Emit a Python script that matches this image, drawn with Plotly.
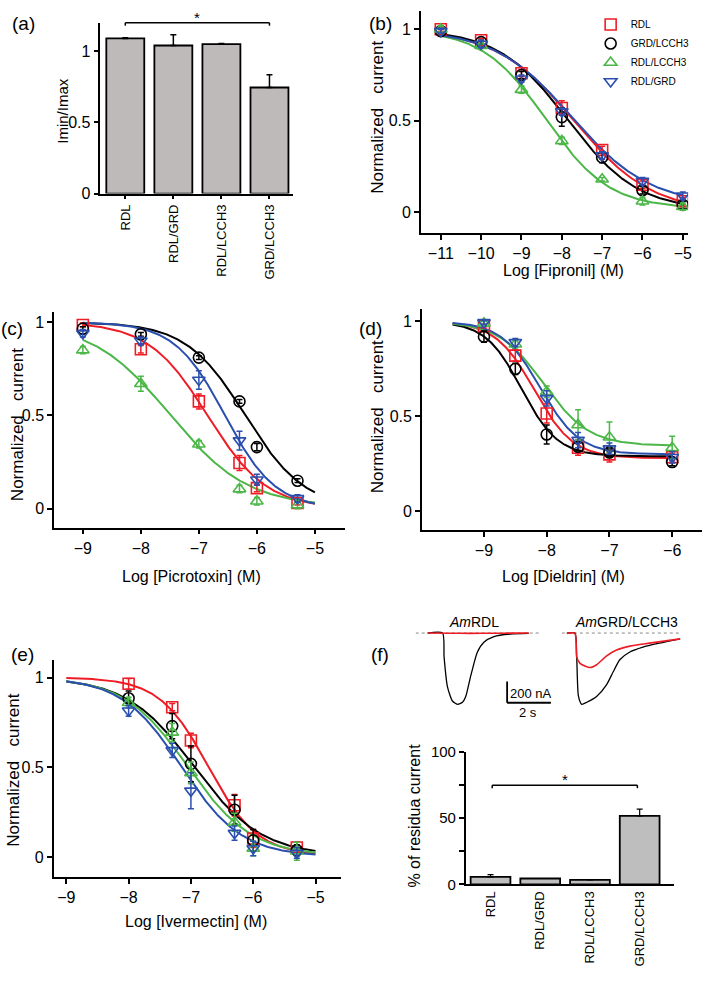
import numpy as np
import plotly.graph_objects as go

W, H = 709, 981

# ---------------- data ----------------
groups = ["RDL", "GRD/LCCH3", "RDL/LCCH3", "RDL/GRD"]
colors = ["#ee1c25", "#000000", "#4cb748", "#2b4fae"]
symbols = ["square-open", "circle-open", "triangle-up-open", "triangle-down-open"]

# (a) Imin/Imax bars
bar_cats = ["RDL", "RDL/GRD", "RDL/LCCH3", "GRD/LCCH3"]
imin_imax = [1.09, 1.04, 1.05, 0.745]
imin_imax_err = [0.005, 0.075, 0.005, 0.09]

# (b) Fipronil
fip_x = [-11, -10, -9, -8, -7, -6, -5]
fip_rdl = [1.00, 0.94, 0.76, 0.57, 0.34, 0.15, 0.06]
fip_grd_lcch3 = [0.99, 0.93, 0.75, 0.52, 0.30, 0.12, 0.04]
fip_rdl_lcch3 = [1.00, 0.91, 0.67, 0.39, 0.18, 0.06, 0.03]
fip_rdl_grd = [0.99, 0.92, 0.73, 0.55, 0.31, 0.17, 0.09]
fip_err = [[0.01, 0.01, 0.02, 0.04, 0.02, 0.02, 0.02],
           [0.01, 0.01, 0.02, 0.05, 0.03, 0.02, 0.02],
           [0.02, 0.01, 0.02, 0.02, 0.01, 0.02, 0.02],
           [0.01, 0.02, 0.02, 0.02, 0.02, 0.02, 0.02]]
fip_logic50 = [-7.7, -7.85, -8.4, -7.75]
fip_hill = [0.45, 0.5, 0.55, 0.45]
fip_bottom = [0.0, 0.01, 0.02, 0.04]

# (c) Picrotoxin
pic_x = [-9, -8, -7, -6.3, -6, -5.3]
pic_rdl = [0.985, 0.855, 0.575, 0.245, 0.11, 0.03]
pic_grd_lcch3 = [0.965, 0.935, 0.81, 0.575, 0.33, 0.15]
pic_rdl_lcch3 = [0.85, 0.67, 0.345, 0.105, 0.04, 0.02]
pic_rdl_grd = [0.94, 0.90, 0.69, 0.365, 0.155, 0.055]
pic_err = [[0.01, 0.02, 0.04, 0.04, 0.02, 0.01],
           [0.01, 0.01, 0.01, 0.01, 0.02, 0.01],
           [0.02, 0.04, 0.02, 0.02, 0.02, 0.02],
           [0.02, 0.02, 0.05, 0.05, 0.03, 0.02]]
pic_logic50 = [-6.85, -6.2, -7.5, -6.55]
pic_hill = [0.85, 0.85, 0.65, 1.0]
pic_bottom = [0.0, 0.0, 0.01, 0.0]

# (d) Dieldrin
die_x = [-9, -8.5, -8, -7.5, -7, -6]
die_rdl = [0.975, 0.82, 0.515, 0.335, 0.30, 0.285]
die_grd_lcch3 = [0.92, 0.75, 0.405, 0.34, 0.31, 0.26]
die_rdl_lcch3 = [0.99, 0.88, 0.63, 0.455, 0.39, 0.335]
die_rdl_grd = [0.995, 0.89, 0.595, 0.375, 0.33, 0.285]
die_err = [[0.01, 0.03, 0.05, 0.04, 0.04, 0.02],
           [0.03, 0.03, 0.05, 0.02, 0.02, 0.02],
           [0.01, 0.02, 0.03, 0.08, 0.08, 0.06],
           [0.01, 0.02, 0.04, 0.04, 0.03, 0.03]]
die_logic50 = [-8.2, -8.4, -8.05, -8.1]
die_hill = [1.4, 1.5, 1.2, 1.4]
die_bottom = [0.28, 0.29, 0.345, 0.30]

# (e) Ivermectin
iver_x = [-8, -7.3, -7, -6.3, -6, -5.3]
iver_rdl = [0.965, 0.835, 0.65, 0.29, 0.105, 0.055]
iver_grd_lcch3 = [0.885, 0.73, 0.52, 0.265, 0.095, 0.04]
iver_rdl_lcch3 = [0.86, 0.695, 0.47, 0.195, 0.05, 0.035]
iver_rdl_grd = [0.815, 0.595, 0.37, 0.135, 0.05, 0.025]
iver_err = [[0.03, 0.02, 0.04, 0.06, 0.05, 0.03],
            [0.04, 0.07, 0.10, 0.08, 0.06, 0.03],
            [0.03, 0.05, 0.06, 0.05, 0.04, 0.05],
            [0.03, 0.04, 0.10, 0.04, 0.04, 0.03]]
iver_logic50 = [-6.72, -6.95, -7.05, -7.15]
iver_hill = [1.1, 0.8, 0.85, 0.9]
iver_bottom = [0.01, 0.01, 0.01, 0.005]

# (f) current traces (time s, current nA)
rdl_t_black = [0.55, 1.23, 1.30, 1.45, 1.68, 1.91, 2.14, 2.29, 2.51, 2.82, 3.12, 3.58, 4.33, 5.17]
rdl_i_black = [0, 0, -224, -500, -638, -669, -650, -595, -410, -180, -86, -33, -9, -3]
rdl_t_red = [0.55, 1.5, 2.5, 3.5, 4.5, 5.17]
rdl_i_red = [0, -2, -3, -2, -1, 0]
grd_t_black = [0.23, 0.60, 0.68, 0.76, 0.91, 1.14, 1.59, 2.05, 2.35, 2.65, 3.11, 3.71, 4.47, 5.41]
grd_i_black = [0, 0, -224, -593, -669, -650, -595, -484, -364, -251, -178, -132, -95, -55]
grd_t_red = [0.23, 0.60, 0.68, 0.83, 1.29, 1.59, 2.05, 2.50, 3.11, 4.01, 5.41]
grd_i_red = [-3, -3, -224, -285, -324, -298, -215, -160, -123, -95, -55]

# (f) residual current bars
residual_pct = [5.7, 4.4, 3.4, 51.7]
residual_err = [1.6, 0.0, 0.0, 5.0]

# ---------------- helpers ----------------
def px_x(p):
    return p / W


def px_y(p):
    return 1 - p / H


def vrange(dom_px, v1, p1, v2, p2):
    f = lambda p: v1 + (p - p1) * (v2 - v1) / (p2 - p1)
    return [f(dom_px[0]), f(dom_px[1])]


def hill(x, top, bottom, logic50, n):
    return bottom + (top - bottom) / (1 + 10 ** ((x - logic50) * n))


FONT = "Arial, Liberation Sans, sans-serif"
TICK = 16
TITLE = 16
YTITLE = 17
NC = "Normalized\u00a0\u00a0 current"
fig = go.Figure()

axis_common = dict(showline=True, linecolor="black", linewidth=1.5, ticks="outside",
                   ticklen=5, tickwidth=1.5, tickcolor="black", showgrid=False,
                   zeroline=False, tickfont=dict(size=TICK, family=FONT, color="black"))

layout = dict(width=W, height=H, margin=dict(l=0, r=0, t=0, b=0), autosize=False,
              plot_bgcolor="white", paper_bgcolor="white",
              font=dict(family=FONT, size=14, color="black"),
              annotations=[], shapes=[])


def set_axes(k, xdom, xr, ydom, yr, xtv=None, xtt=None, ytv=None, ytt=None,
             xextra=None, yextra=None):
    xn = "xaxis" if k == 1 else f"xaxis{k}"
    yn = "yaxis" if k == 1 else f"yaxis{k}"
    anc = "" if k == 1 else str(k)
    xa = dict(axis_common, domain=[px_x(xdom[0]), px_x(xdom[1])], range=xr, anchor="y" + anc)
    ya = dict(axis_common, domain=[px_y(ydom[0]), px_y(ydom[1])], range=yr, anchor="x" + anc)
    if xtv is not None:
        xa["tickvals"] = xtv
    if xtt is not None:
        xa["ticktext"] = xtt
    if ytv is not None:
        ya["tickvals"] = ytv
    if ytt is not None:
        ya["ticktext"] = ytt
    if xextra:
        xa.update(xextra)
    if yextra:
        ya.update(yextra)
    layout[xn] = xa
    layout[yn] = ya


def ann(text, x, y, size=14, angle=0, xanchor="center", yanchor="middle"):
    layout["annotations"].append(dict(text=text, x=px_x(x), y=px_y(y), xref="paper", yref="paper",
                                      showarrow=False, textangle=angle, xanchor=xanchor,
                                      yanchor=yanchor, font=dict(size=size, family=FONT, color="black")))


def bracket(x0, x1, y, drop=3):
    for (a, b, c, d) in [(x0, y, x1, y), (x0, y, x0, y + drop), (x1, y, x1, y + drop)]:
        layout["shapes"].append(dict(type="line", xref="paper", yref="paper",
                                     x0=px_x(a), y0=px_y(b), x1=px_x(c), y1=px_y(d),
                                     line=dict(color="black", width=1.5)))


cat_x = dict(type="category", tickangle=-90, ticks="outside", ticklen=4,
             tickfont=dict(size=13, family=FONT, color="black"))

# ---------------- (a) bar chart ----------------
fig.add_trace(go.Bar(x=bar_cats, y=imin_imax, width=0.79, marker=dict(color="#bdbab9", line=dict(color="black", width=1.8)),
                     error_y=dict(type="data", symmetric=False, array=imin_imax_err, arrayminus=[0] * 4,
                                  color="black", thickness=1.5, width=3),
                     xaxis="x", yaxis="y", showlegend=False))
set_axes(1, [101, 295], vrange([101, 295], 0, 126, 3, 271), [188, 14], vrange([188, 14], 0, 188, 1, 43),
         ytv=[0, 0.5, 1], ytt=["0", "0.5", "1"], xextra=cat_x)
bracket(126, 271, 14)
ann("*", 198.5, 9, size=15)
ann("Imin/Imax", 62, 104, size=15, angle=-90)
ann("(a)", 24, 15, size=19)

# ---------------- dose-response panels ----------------
def dose_panel(k, xvals, series, errs, l50, nh, bot, lo, hi, legend=False):
    xa, ya = f"x{k}", f"y{k}"
    xs = np.linspace(lo, hi, 300)
    for i in range(4):
        fig.add_trace(go.Scatter(x=xs, y=hill(xs, 1.0, bot[i], l50[i], nh[i]), mode="lines",
                                 line=dict(color=colors[i], width=2), xaxis=xa, yaxis=ya,
                                 showlegend=False, hoverinfo="skip"))
    for i in range(4):
        fig.add_trace(go.Scatter(x=xvals, y=series[i], mode="markers", name=groups[i],
                                 marker=dict(symbol=symbols[i], size=11, color=colors[i],
                                             line=dict(width=1.6, color=colors[i])),
                                 error_y=dict(type="data", array=errs[i], color=colors[i], thickness=1.5, width=3),
                                 xaxis=xa, yaxis=ya, showlegend=legend))


ytv = [0, 0.5, 1]
ytt = ["0", "0.5", "1"]

# (b)
dose_panel(2, fip_x, [fip_rdl, fip_grd_lcch3, fip_rdl_lcch3, fip_rdl_grd], fip_err,
           fip_logic50, fip_hill, fip_bottom, -11, -5, legend=True)
set_axes(2, [423.3, 692], vrange([423.3, 692], -11, 443.3, -5, 686.7), [228, 2],
         vrange([228, 2], 0, 207, 1, 20.7), xtv=fip_x, ytv=ytv, ytt=ytt)
ann(NC, 380, 110, size=YTITLE, angle=-90)
ann("Log [Fipronil] (M)", 567, 266, size=TITLE)
ann("(b)", 383, 15, size=19)

# (c)
dose_panel(3, pic_x, [pic_rdl, pic_grd_lcch3, pic_rdl_lcch3, pic_rdl_grd], pic_err,
           pic_logic50, pic_hill, pic_bottom, -9, -5)
set_axes(3, [54.3, 346.7], vrange([54.3, 346.7], -9, 83.3, -5, 316.7), [528.3, 309],
         vrange([528.3, 309], 0, 509, 1, 319), xtv=[-9, -8, -7, -6, -5], ytv=ytv, ytt=ytt)
ann(NC, 17, 423, size=YTITLE, angle=-90)
ann("Log [Picrotoxin] (M)", 193, 578, size=TITLE)
ann("(c)", 12, 325, size=19)

# (d)
dose_panel(4, die_x, [die_rdl, die_grd_lcch3, die_rdl_lcch3, die_rdl_grd], die_err,
           die_logic50, die_hill, die_bottom, -9.5, -6)
set_axes(4, [424.3, 706], vrange([424.3, 706], -9, 486.7, -6, 676), [531, 306],
         vrange([531, 306], 0, 511.7, 1, 318.3), xtv=[-9, -8, -7, -6], ytv=ytv, ytt=ytt)
ann(NC, 380, 415, size=YTITLE, angle=-90)
ann("Log [Dieldrin] (M)", 567, 578, size=TITLE)
ann("(d)", 373, 325, size=19)

# (e)
dose_panel(5, iver_x, [iver_rdl, iver_grd_lcch3, iver_rdl_lcch3, iver_rdl_grd], iver_err,
           iver_logic50, iver_hill, iver_bottom, -9, -5)
set_axes(5, [54, 343.3], vrange([54, 343.3], -9, 66.7, -5, 317.3), [884.3, 662.7],
         vrange([884.3, 662.7], 0, 864.3, 1, 681), xtv=[-9, -8, -7, -6, -5], ytv=ytv, ytt=ytt)
ann(NC, 14, 775, size=YTITLE, angle=-90)
ann("Log [Ivermectin] (M)", 197, 930, size=TITLE)
ann("(e)", 23, 658, size=19)

# ---------------- (f) bars ----------------
fig.add_trace(go.Bar(x=bar_cats, y=residual_pct, width=0.8, marker=dict(color="#bebebe", line=dict(color="black", width=1.8)),
                     error_y=dict(type="data", symmetric=False, array=residual_err, arrayminus=[0] * 4,
                                  color="black", thickness=1.2, width=3),
                     xaxis="x6", yaxis="y6", showlegend=False))
set_axes(6, [468.3, 678.3], vrange([468.3, 678.3], 0, 493.3, 3, 643.3), [891.7, 756.7],
         [0, 100], ytv=[0, 25, 50, 75, 100], ytt=["0", "", "50", "", "100"],
         xextra=dict(cat_x, ticks=""))
layout["yaxis6"]["tickfont"] = dict(size=15, family=FONT, color="black")
bracket(495, 641, 790.7)
ann("*", 568, 785, size=15)
ann("% of residua current", 417, 822, size=TITLE, angle=-90)
ann("(f)", 382, 658, size=19)

# ---------------- (f) traces ----------------
tr_y_dom = [715, 625]
tr_yr = vrange(tr_y_dom, 0, 635.7, -200, 635.7 + 200 * 0.1085)
for k, dom, t_b, i_b, t_r, i_r, base_end in [
        (7, [418, 560], rdl_t_black, rdl_i_black, rdl_t_red, rdl_i_red, 5.68),
        (8, [565, 690], grd_t_black, grd_i_black, grd_t_red, grd_i_red, 5.45)]:
    xa, ya = f"x{k}", f"y{k}"
    fig.add_trace(go.Scatter(x=[0, base_end], y=[0, 0], mode="lines", line=dict(color="#888888", width=1, dash="dot"),
                             xaxis=xa, yaxis=ya, showlegend=False, hoverinfo="skip"))
    fig.add_trace(go.Scatter(x=t_b, y=i_b, mode="lines", line=dict(color="black", width=1.3, shape="spline", smoothing=0.6),
                             xaxis=xa, yaxis=ya, showlegend=False, hoverinfo="skip"))
    fig.add_trace(go.Scatter(x=t_r, y=i_r, mode="lines", line=dict(color="#ee1c25", width=1.6, shape="spline", smoothing=0.6),
                             xaxis=xa, yaxis=ya, showlegend=False, hoverinfo="skip"))
    xr = vrange(dom, 0, dom[0], 1, dom[0] + 22)
    layout[f"xaxis{k}"] = dict(domain=[px_x(dom[0]), px_x(dom[1])], range=xr, visible=False, anchor=ya)
    layout[f"yaxis{k}"] = dict(domain=[px_y(tr_y_dom[0]), px_y(tr_y_dom[1])], range=tr_yr, visible=False, anchor=xa)

# scale bar (200 nA, 2 s) in left trace axes units
sb_t0 = (510 - 418) / 22
sb_i0 = -(706.7 - 635.7) / 0.1085
layout["shapes"].append(dict(type="line", xref="x7", yref="y7", x0=sb_t0, y0=sb_i0, x1=sb_t0, y1=sb_i0 + 200,
                             line=dict(color="black", width=1.8)))
layout["shapes"].append(dict(type="line", xref="x7", yref="y7", x0=sb_t0, y0=sb_i0, x1=sb_t0 + 2, y1=sb_i0,
                             line=dict(color="black", width=1.8)))
ann("200 nA", 534, 697, size=13)
ann("2 s", 531, 717, size=13)
ann("<i>Am</i>RDL", 477, 624, size=14)
ann("<i>Am</i>GRD/LCCH3", 630, 624, size=14)

layout["legend"] = dict(x=px_x(594), y=px_y(1), xanchor="left", yanchor="top",
                        font=dict(size=10, family=FONT, color="black"), bgcolor="rgba(0,0,0,0)",
                        tracegroupgap=0, itemwidth=30)
fig.update_layout(**layout)

post = (
    "document.documentElement.style.margin='0';"
    "document.documentElement.style.overflow='hidden';"
    "document.body.style.margin='0';document.body.style.padding='0';"
    "document.body.style.overflow='hidden';"
)
fig.write_html("out.html", config={"displayModeBar": False}, post_script=post)
